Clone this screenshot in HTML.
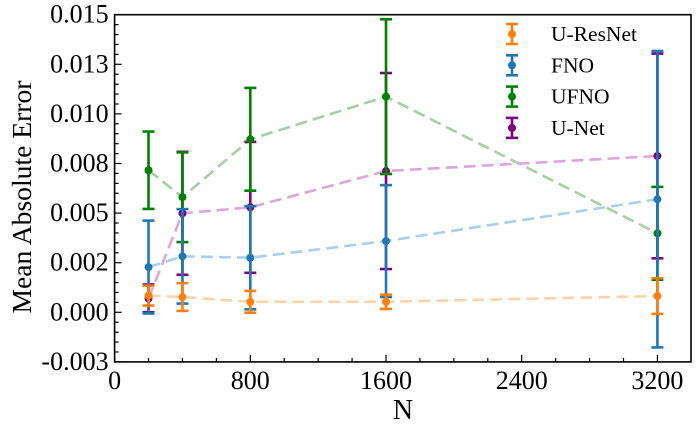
<!DOCTYPE html>
<html><head><meta charset="utf-8"><style>
body{margin:0;background:#fff}
svg text{font-family:"Liberation Serif",serif;fill:#000}
</style></head><body>
<svg id="chart" width="697" height="429" viewBox="0 0 697 429" xmlns="http://www.w3.org/2000/svg">
<g id="lines"></g><g id="bars"></g><g id="axes"></g><g id="legend"></g>
</svg>
<script>
const xValues = [200, 400, 800, 1600, 3200];
const seriesNames = ["U-ResNet", "FNO", "UFNO", "U-Net"];
const seriesColors = ["#ff7f0e", "#1f77b4", "#008000", "#800080"];
const lineColors = ["#ffd3a8", "#a8d0ec", "#a6cfa6", "#dca6dc"];
const uresnetMean = [0.00084, 0.00077, 0.00053, 0.00053, 0.00082];
const uresnetErr = [0.0005, 0.0007, 0.00055, 0.00036, 0.0009];
const fnoMean = [0.00228, 0.00282, 0.00275, 0.00359, 0.0057];
const fnoErr = [0.00234, 0.00238, 0.0026, 0.00282, 0.00747];
const ufnoMean = [0.00716, 0.0058, 0.00872, 0.01087, 0.00398];
const ufnoErr = [0.00195, 0.00226, 0.00259, 0.0039, 0.00234];
const unetMean = [0.0007, 0.00499, 0.00529, 0.00712, 0.00788];
const unetErr = [0.0007, 0.0031, 0.0033, 0.00494, 0.00516];
const xTicks = [0, 800, 1600, 2400, 3200];
const yTicks = [-0.0025, 0, 0.0025, 0.005, 0.0075, 0.01, 0.0125, 0.015];
const yTickLabels = ["-0.003", "0.000", "0.002", "0.005", "0.008", "0.010", "0.013", "0.015"];

const L=114.6, R=691, T=14.7, B=361.9;
const XMIN=0, XMAX=(R-L)/0.16963, YMIN=-0.0025, YMAX=0.015;
const sx=v=>L+(v-XMIN)/(XMAX-XMIN)*(R-L);
const sy=v=>B-(v-YMIN)/(YMAX-YMIN)*(B-T);
const NS="http://www.w3.org/2000/svg";
function mk(parent,tag,attrs){const e=document.createElementNS(NS,tag);for(const k in attrs)e.setAttribute(k,attrs[k]);parent.appendChild(e);return e;}
const means=[uresnetMean,fnoMean,ufnoMean,unetMean];
const errs=[uresnetErr,fnoErr,ufnoErr,unetErr];
const gl=document.getElementById('lines'), gb=document.getElementById('bars'), ga=document.getElementById('axes'), gg=document.getElementById('legend');
for(let s=0;s<4;s++){
  const pts=xValues.map((x,i)=>sx(x)+','+sy(means[s][i])).join(' ');
  const pl=mk(gl,'polyline',{points:pts,fill:'none',stroke:lineColors[s],'stroke-width':2.6,'stroke-dasharray':'12,6'});
  
  
}
[3,2,1,0].forEach(s=>{
  xValues.forEach((x,i)=>{
    const g=mk(gb,'g',{});
    
    
    const cx=sx(x), top=sy(means[s][i]+errs[s][i]), bot=sy(means[s][i]-errs[s][i]);
    const c=seriesColors[s];
    mk(g,'line',{x1:cx,x2:cx,y1:top,y2:bot,stroke:c,'stroke-width':2.6});
    mk(g,'line',{x1:cx-6,x2:cx+6,y1:top,y2:top,stroke:c,'stroke-width':2.6});
    mk(g,'line',{x1:cx-6,x2:cx+6,y1:bot,y2:bot,stroke:c,'stroke-width':2.6});
    mk(g,'circle',{cx:cx,cy:sy(means[s][i]),r:4,fill:c});
  });
});
const fr=mk(ga,'rect',{x:L,y:T,width:R-L,height:B-T,fill:'none',stroke:'#000','stroke-width':1.6});


for(let v=0;v<=XMAX;v+=200){
  const major=v%800===0;
  mk(ga,'line',{x1:sx(v),x2:sx(v),y1:B,y2:B-(major?7:4),stroke:'#000','stroke-width':1.2});
}
xTicks.forEach(v=>{
  const t=mk(ga,'text',{x:sx(v),y:B+27,'text-anchor':'middle','font-size':26});
  t.textContent=v;
  
  
});
for(let k=0;k<=35;k++){
  const v=YMIN+k*0.0005;
  const major=k%5===0;
  mk(ga,'line',{x1:L,x2:L+(major?7:4),y1:sy(v),y2:sy(v),stroke:'#000','stroke-width':1.2});
}
yTicks.forEach((v,i)=>{
  const t=mk(ga,'text',{x:L-6,y:sy(v)+8,'text-anchor':'end','font-size':26});
  t.textContent=yTickLabels[i];
  
  
});
const xt=mk(ga,'text',{x:403,y:419,'text-anchor':'middle','font-size':28});
xt.textContent='N';


const yt=mk(ga,'text',{x:0,y:0,'text-anchor':'middle','font-size':27,textLength:233,lengthAdjust:'spacingAndGlyphs',transform:'translate(31,197) rotate(-90)'});
yt.textContent='Mean Absolute Error';


seriesNames.forEach((n,s)=>{
  const g=mk(gg,'g',{});
  
  
  const cy=34+s*31.3, cx=512, c=seriesColors[s];
  mk(g,'line',{x1:cx,x2:cx,y1:cy-10,y2:cy+10,stroke:c,'stroke-width':2.6});
  mk(g,'line',{x1:cx-6,x2:cx+6,y1:cy-10,y2:cy-10,stroke:c,'stroke-width':2.6});
  mk(g,'line',{x1:cx-6,x2:cx+6,y1:cy+10,y2:cy+10,stroke:c,'stroke-width':2.6});
  mk(g,'circle',{cx:cx,cy:cy,r:4,fill:c});
  const t=mk(g,'text',{x:551,y:cy+7,'font-size':21.5});
  t.textContent=n;
});
</script>
</body></html>
